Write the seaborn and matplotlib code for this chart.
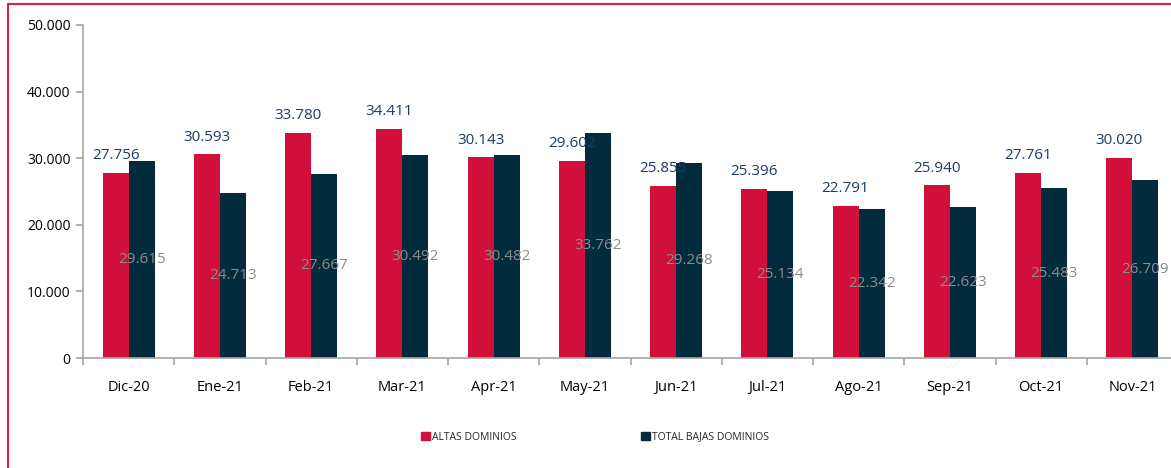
import matplotlib
matplotlib.use("Agg")
import matplotlib.pyplot as plt
import seaborn as sns
import pandas as pd
from matplotlib.patches import Rectangle
from matplotlib.ticker import FuncFormatter, FixedLocator

months = ["Dic-20", "Ene-21", "Feb-21", "Mar-21", "Apr-21", "May-21",
          "Jun-21", "Jul-21", "Ago-21", "Sep-21", "Oct-21", "Nov-21"]
altas = [27756, 30593, 33780, 34411, 30143, 29602, 25855, 25396, 22791, 25940, 27761, 30020]
bajas = [29615, 24713, 27667, 30492, 30482, 33762, 29268, 25134, 22342, 22623, 25483, 26709]
series_names = ["ALTAS DOMINIOS", "TOTAL BAJAS DOMINIOS"]
colors = ["#D0103A", "#032B3E"]

df = pd.DataFrame({
    "mes": months * 2,
    "valor": altas + bajas,
    "serie": [series_names[0]] * len(months) + [series_names[1]] * len(months),
})

sns.set_theme(style="white")
plt.rcParams["font.family"] = ["Open Sans", "DejaVu Sans"]

fig = plt.figure(figsize=(11.71, 4.68), dpi=100)
ax = fig.add_axes([83 / 1171, 1 - 358 / 468, (1178 - 83) / 1171, (358 - 25) / 468])

sns.barplot(data=df, x="mes", y="valor", hue="serie", palette=colors,
            width=0.57, gap=0, ax=ax, saturation=1, legend=True,
            edgecolor="none")

ax.set_ylim(0, 50000)
ax.set_xlim(-0.5, len(months) - 0.5)
ax.set_yticks([0, 10000, 20000, 30000, 40000, 50000])
fmt = lambda v: f"{int(round(v)):,}".replace(",", ".")
ax.yaxis.set_major_formatter(FuncFormatter(lambda v, p: fmt(v)))
ax.set_xlabel("")
ax.set_ylabel("")

for s in ["top", "right"]:
    ax.spines[s].set_visible(False)
for s in ["left", "bottom"]:
    ax.spines[s].set_color("#A6A6A6")
    ax.spines[s].set_linewidth(1.2)

ax.tick_params(axis="y", which="major", left=True, length=5, color="#A6A6A6",
               labelsize=10, labelcolor="#000000", pad=4)
ax.tick_params(axis="x", which="major", bottom=False, labelsize=10.5,
               labelcolor="#000000", pad=10)
ax.xaxis.set_minor_locator(FixedLocator([i + 0.5 for i in range(-1, len(months))]))
ax.tick_params(axis="x", which="minor", bottom=True, length=5, color="#A6A6A6", width=1.2)

# data labels
c_altas, c_bajas = ax.containers[0], ax.containers[1]
for bar, v in zip(c_altas, altas):
    ax.annotate(fmt(v), (bar.get_x() + bar.get_width() / 2, v),
                xytext=(0, 7), textcoords="offset points",
                ha="center", va="bottom", fontsize=11, color="#1F3B6B")
for bar, v in zip(c_bajas, bajas):
    ax.text(bar.get_x() + bar.get_width() / 2, v / 2, fmt(v),
            ha="center", va="center", fontsize=11, color="#8C8C8C")

leg = ax.get_legend()
if leg is not None:
    leg.remove()
handles = [Rectangle((0, 0), 1, 1, color=c) for c in colors]
fig.legend(handles, series_names, loc="center", bbox_to_anchor=(595 / 1171, 1 - 437 / 468),
           ncol=2, frameon=False, fontsize=7.5, handlelength=0.8, handleheight=0.8,
           handletextpad=0.2, columnspacing=12)

# outer red frame (left and top edges)
fig.add_artist(plt.Line2D([8 / 1171, 8 / 1171], [0, 1 - 4 / 468], transform=fig.transFigure,
                          color="#D9214E", linewidth=1.5))
fig.add_artist(plt.Line2D([8 / 1171, 1], [1 - 4 / 468, 1 - 4 / 468], transform=fig.transFigure,
                          color="#D9214E", linewidth=1.5))

fig.savefig("out.png", dpi=100)
